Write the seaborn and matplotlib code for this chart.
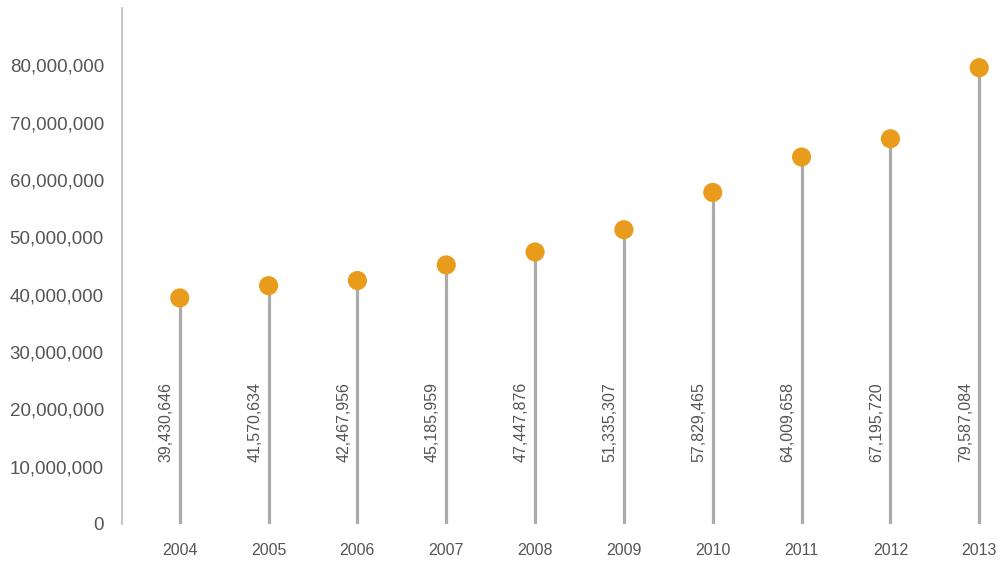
import pandas as pd
import numpy as np
import matplotlib.pyplot as plt
import seaborn as sns
from matplotlib.ticker import FuncFormatter

years  = ['2004', '2005', '2006', '2007', '2008', '2009', '2010', '2011', '2012', '2013']
values = [39430646, 41570634, 42467956, 45185959, 47447876,
          51335307, 57829465, 64009658, 67195720, 79587084]

df = pd.DataFrame({'year': years, 'value': values})
df['pos'] = np.arange(len(df))

sns.set_style('white')
plt.rcParams['font.family'] = ['Liberation Sans', 'DejaVu Sans']

fig = plt.figure(figsize=(10.05, 5.61), dpi=100)
ax = fig.add_axes([0.1214, 0.066, 0.8786, 0.9197])

ORANGE = '#E99B1C'
STEM   = '#ABABAB'
TEXT   = '#555555'

# stems
ax.vlines(df['pos'], 0, df['value'], color=STEM, lw=2.3, zorder=1)
# heads
sns.scatterplot(data=df, x='pos', y='value', color=ORANGE, s=190,
                edgecolor='none', ax=ax, zorder=3, legend=False)

# rotated value labels beside each stem
for p, v in zip(df['pos'], df['value']):
    ax.annotate(f'{v:,}', xy=(p, 10.8e6), xytext=(-4.5, 0), textcoords='offset points',
                rotation=90, ha='right', va='bottom', fontsize=11.5, color=TEXT)

ax.set_xlim(-0.65, 9.29)
ax.set_ylim(0, 90e6)
ax.set_yticks(np.arange(0, 80e6 + 1, 10e6))
ax.yaxis.set_major_formatter(FuncFormatter(lambda v, _: f'{int(v):,}'))
ax.set_xticks(df['pos'])
ax.set_xticklabels(df['year'])
ax.tick_params(axis='y', length=0, pad=13, labelsize=13.5, labelcolor=TEXT)
ax.tick_params(axis='x', length=0, pad=14, labelsize=11.5, labelcolor=TEXT)
ax.set_xlabel('')
ax.set_ylabel('')

for side in ['top', 'right', 'bottom']:
    ax.spines[side].set_visible(False)
ax.spines['left'].set_color('#BBBBBB')
ax.spines['left'].set_linewidth(1.2)

plt.savefig('out.png', dpi=100)
plt.close()
